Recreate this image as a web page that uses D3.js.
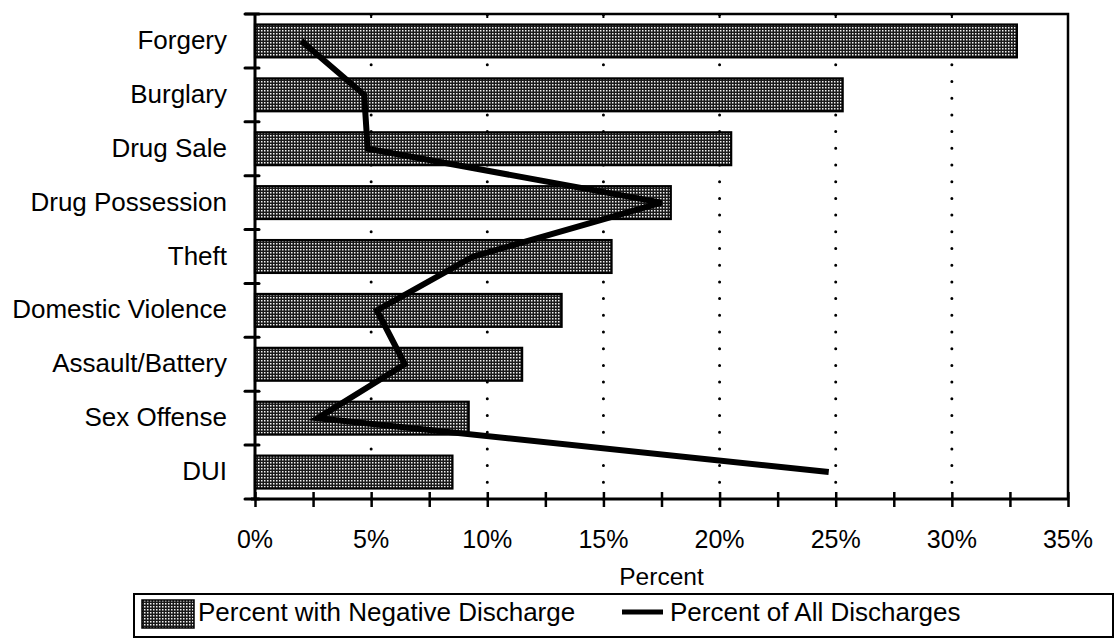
<!DOCTYPE html>
<html>
<head>
<meta charset="utf-8">
<script src="https://cdn.jsdelivr.net/npm/d3@7"></script>
<style>
  html, body { margin: 0; padding: 0; background: #fff; }
  svg { display: block; font-family: "Liberation Sans", Arial, Helvetica, sans-serif; }
</style>
</head>
<body>
<svg id="chart" width="1115" height="643"></svg>
<script>
// ---- data ----
const categories = ["Forgery", "Burglary", "Drug Sale", "Drug Possession", "Theft",
  "Domestic Violence", "Assault/Battery", "Sex Offense", "DUI"];
const negativeDischarge = [32.8, 25.3, 20.5, 17.9, 15.35, 13.2, 11.5, 9.2, 8.5];
const allDischarges = [2.0, 4.7, 4.85, 17.5, 9.4, 5.25, 6.45, 2.7, 24.7];
const xTickValues = [0, 5, 10, 15, 20, 25, 30, 35];
const xTickLabels = ["0%", "5%", "10%", "15%", "20%", "25%", "30%", "35%"];
const legendLabels = ["Percent with Negative Discharge", "Percent of All Discharges"];
const xAxisTitle = "Percent";

// ---- layout ----
const L = 255, R = 1068, T = 14, B = 499;
const svg = d3.select("#chart");

const defs = svg.append("defs");
const pat = defs.append("pattern").attr("id", "dots")
  .attr("width", 3).attr("height", 3).attr("patternUnits", "userSpaceOnUse");
pat.append("rect").attr("width", 3).attr("height", 3).attr("fill", "#1a1a1a");
pat.append("rect").attr("x", 0).attr("y", 0).attr("width", 1.5).attr("height", 1.5).attr("fill", "#f2f2f2");

const x = d3.scaleLinear().domain([0, 35]).range([L, R]);
const y = d3.scaleBand().domain(categories).range([T, B]).padding(0);
const barH = y.bandwidth() * 0.61;

// dotted gridlines
svg.append("g").selectAll("line").data([5, 10, 15, 20, 25, 30]).join("line")
  .attr("x1", d => x(d)).attr("x2", d => x(d))
  .attr("y1", B).attr("y2", T)
  .attr("stroke", "#000").attr("stroke-width", 3)
  .attr("stroke-linecap", "round").attr("stroke-dasharray", "0 16.7");

// small ticks on top frame
svg.append("g").selectAll("line").data([5, 10, 15, 20, 25, 30]).join("line")
  .attr("x1", d => x(d)).attr("x2", d => x(d))
  .attr("y1", T).attr("y2", T + 4)
  .attr("stroke", "#000").attr("stroke-width", 2);

// bars
svg.append("g").selectAll("rect").data(categories).join("rect")
  .attr("x", x(0))
  .attr("y", d => y(d) + (y.bandwidth() - barH) / 2)
  .attr("width", (d, i) => x(negativeDischarge[i]) - x(0))
  .attr("height", barH)
  .attr("fill", "url(#dots)")
  .attr("stroke", "#000").attr("stroke-width", 2.2);

// frame (top, right)
svg.append("path")
  .attr("d", `M${L - 10},${T}H${R}V${B}`)
  .attr("fill", "none").attr("stroke", "#000").attr("stroke-width", 2.5);

// x axis
const xAxis = d3.axisBottom(x)
  .tickValues(d3.range(0, 35.01, 2.5))
  .tickSize(0).tickFormat("");
const gx = svg.append("g").attr("transform", `translate(0,${B})`).call(xAxis);
gx.select(".domain").attr("stroke-width", 3).attr("d", `M${L - 4},0H${R}`);
gx.selectAll(".tick line").attr("y1", -7).attr("y2", 8).attr("stroke-width", 2.5);
svg.append("g").selectAll("text").data(xTickValues).join("text")
  .attr("x", d => x(d)).attr("y", B + 49)
  .attr("text-anchor", "middle").attr("font-size", 25)
  .text((d, i) => xTickLabels[i]);

svg.append("text").attr("x", (L + R) / 2).attr("y", B + 86)
  .attr("text-anchor", "middle").attr("font-size", 24.5).text(xAxisTitle);

// y axis
const yAxis = d3.axisLeft(y).tickSize(0).tickFormat("");
const gy = svg.append("g").attr("transform", `translate(${L},0)`).call(yAxis);
gy.select(".domain").attr("stroke-width", 3).attr("d", `M0,${T}V${B}`);
gy.selectAll(".tick").remove();
// category boundary ticks
svg.append("g").selectAll("line").data(d3.range(0, categories.length + 1)).join("line")
  .attr("x1", L - 10).attr("x2", L + 4)
  .attr("y1", i => T + i * y.step()).attr("y2", i => T + i * y.step())
  .attr("stroke", "#000").attr("stroke-width", 3).attr("stroke-linecap", "round");
svg.append("g").selectAll("text").data(categories).join("text")
  .attr("x", 227).attr("y", d => y(d) + y.bandwidth() / 2 + 8)
  .attr("text-anchor", "end").attr("font-size", 26)
  .text(d => d);

// line
const line = d3.line()
  .x((d, i) => x(d))
  .y((d, i) => y(categories[i]) + y.bandwidth() / 2);
svg.append("path").datum(allDischarges)
  .attr("d", line).attr("fill", "none")
  .attr("stroke", "#000").attr("stroke-width", 6).attr("stroke-linejoin", "miter");

// legend
const lg = svg.append("g");
lg.append("rect").attr("x", 134).attr("y", 594).attr("width", 979).attr("height", 43)
  .attr("fill", "none").attr("stroke", "#000").attr("stroke-width", 2);
lg.append("rect").attr("x", 142).attr("y", 600).attr("width", 52).attr("height", 28)
  .attr("fill", "url(#dots)").attr("stroke", "#000").attr("stroke-width", 1.5);
lg.append("text").attr("x", 198).attr("y", 621).attr("font-size", 26).text(legendLabels[0]);
lg.append("line").attr("x1", 622).attr("x2", 663).attr("y1", 612).attr("y2", 612)
  .attr("stroke", "#000").attr("stroke-width", 5);
lg.append("text").attr("x", 670).attr("y", 621).attr("font-size", 26).text(legendLabels[1]);
</script>
</body>
</html>
